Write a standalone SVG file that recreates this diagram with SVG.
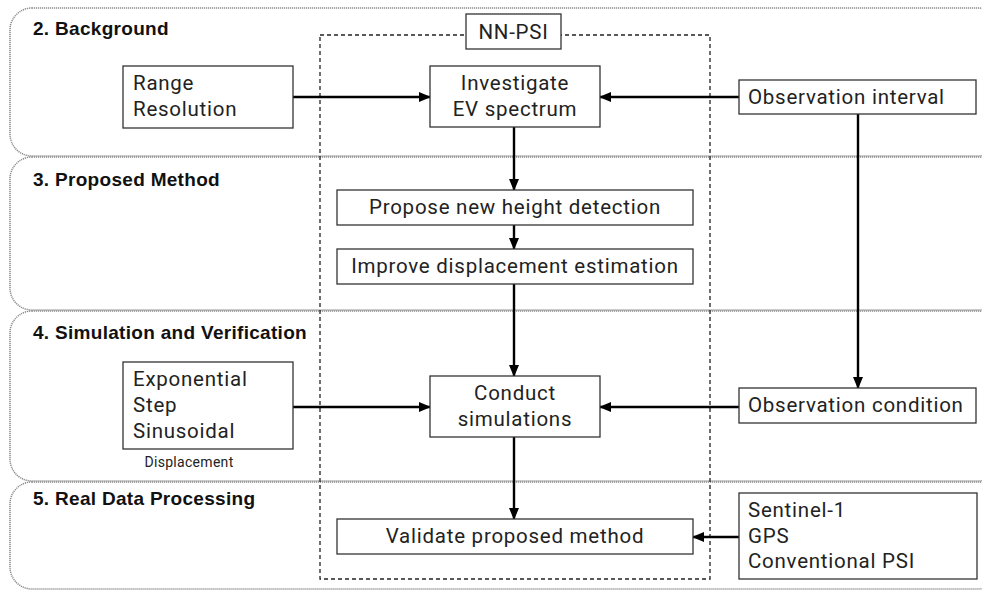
<svg xmlns="http://www.w3.org/2000/svg" width="982" height="590" viewBox="0 0 982 590">
  <defs>
    <marker id="arrow" markerUnits="userSpaceOnUse" markerWidth="12" markerHeight="12" viewBox="0 0 12 12" refX="11" refY="6" orient="auto">
      <path d="M0,1 L12,6 L0,11 Z" fill="#000"/>
    </marker>
    <style>
      .panel { fill: none; stroke: #8c8c8c; stroke-width: 1.5; stroke-dasharray: 1.2 0.8; }
      .title { font-family: "Liberation Sans", Arial, sans-serif; font-weight: bold; font-size: 19px; letter-spacing: 0.3px; fill: #111; }
      .box { fill: #fff; stroke: #333; stroke-width: 1.3; }
      .txt { font-family: Roboto, "Liberation Sans", sans-serif; font-size: 20.5px; letter-spacing: 0.75px; fill: #222; }
      .small { font-family: Roboto, "Liberation Sans", sans-serif; font-size: 14px; letter-spacing: 0.3px; fill: #222; }
      .mid { text-anchor: middle; }
      .edge { fill: none; stroke: #000; stroke-width: 2.4; }
      .frame { fill: none; stroke: #222; stroke-width: 1.3; stroke-dasharray: 4 3; }
    </style>
  </defs>

  <rect width="982" height="590" fill="#fff"/>

  <!-- stage panels -->
  <g id="panels">
    <rect class="panel" x="10" y="8" width="990" height="148" rx="22"/>
    <rect class="panel" x="10" y="157" width="990" height="153" rx="22"/>
    <rect class="panel" x="10" y="311" width="990" height="170" rx="22"/>
    <rect class="panel" x="10" y="482" width="990" height="107" rx="22"/>
    <text class="title" x="33" y="35">2. Background</text>
    <text class="title" x="33" y="186">3. Proposed Method</text>
    <text class="title" x="33" y="339">4. Simulation and Verification</text>
    <text class="title" x="33" y="505">5. Real Data Processing</text>
  </g>

  <!-- NN-PSI frame -->
  <g id="nn-psi">
    <rect class="frame" x="320" y="35" width="390" height="544"/>
    <rect class="box" x="466" y="14" width="95" height="35"/>
    <text class="txt mid" x="513.5" y="39">NN-PSI</text>
  </g>

  <!-- connectors -->
  <g id="connectors">
    <line class="edge" x1="293" y1="97" x2="430" y2="97" marker-end="url(#arrow)"/>
    <line class="edge" x1="739" y1="97" x2="600" y2="97" marker-end="url(#arrow)"/>
    <line class="edge" x1="514" y1="127" x2="514" y2="190" marker-end="url(#arrow)"/>
    <line class="edge" x1="514" y1="225" x2="514" y2="249" marker-end="url(#arrow)"/>
    <line class="edge" x1="514" y1="284" x2="514" y2="376" marker-end="url(#arrow)"/>
    <line class="edge" x1="858" y1="114" x2="858" y2="388" marker-end="url(#arrow)"/>
    <line class="edge" x1="293" y1="407" x2="430" y2="407" marker-end="url(#arrow)"/>
    <line class="edge" x1="739" y1="407" x2="600" y2="407" marker-end="url(#arrow)"/>
    <line class="edge" x1="514" y1="437" x2="514" y2="519" marker-end="url(#arrow)"/>
    <line class="edge" x1="739" y1="537" x2="693" y2="537" marker-end="url(#arrow)"/>
  </g>

  <g id="range-resolution">
    <rect class="box" x="123" y="66" width="170" height="62"/>
    <text class="txt" x="133" y="90">Range</text>
    <text class="txt" x="133" y="116">Resolution</text>
  </g>

  <g id="investigate">
    <rect class="box" x="430" y="66" width="170" height="61"/>
    <text class="txt mid" x="515" y="90">Investigate</text>
    <text class="txt mid" x="515" y="116">EV spectrum</text>
  </g>

  <g id="observation-interval">
    <rect class="box" x="739" y="80" width="237" height="34"/>
    <text class="txt" x="748" y="104">Observation interval</text>
  </g>

  <g id="propose">
    <rect class="box" x="337" y="190" width="356" height="35"/>
    <text class="txt mid" x="515" y="214">Propose new height detection</text>
  </g>

  <g id="improve">
    <rect class="box" x="337" y="249" width="356" height="35"/>
    <text class="txt mid" x="515" y="273">Improve displacement estimation</text>
  </g>

  <g id="displacement">
    <rect class="box" x="123" y="362" width="170" height="87"/>
    <text class="txt" x="133" y="386">Exponential</text>
    <text class="txt" x="133" y="412">Step</text>
    <text class="txt" x="133" y="438">Sinusoidal</text>
    <text class="small mid" x="189" y="467">Displacement</text>
  </g>

  <g id="conduct">
    <rect class="box" x="430" y="376" width="170" height="61"/>
    <text class="txt mid" x="515" y="400">Conduct</text>
    <text class="txt mid" x="515" y="426">simulations</text>
  </g>

  <g id="observation-condition">
    <rect class="box" x="739" y="388" width="237" height="35"/>
    <text class="txt" x="748" y="412">Observation condition</text>
  </g>

  <g id="validate">
    <rect class="box" x="337" y="519" width="356" height="35"/>
    <text class="txt mid" x="515" y="543">Validate proposed method</text>
  </g>

  <g id="data-sources">
    <rect class="box" x="739" y="493" width="238" height="86"/>
    <text class="txt" x="748" y="517">Sentinel-1</text>
    <text class="txt" x="748" y="543">GPS</text>
    <text class="txt" x="748" y="568">Conventional PSI</text>
  </g>
</svg>
